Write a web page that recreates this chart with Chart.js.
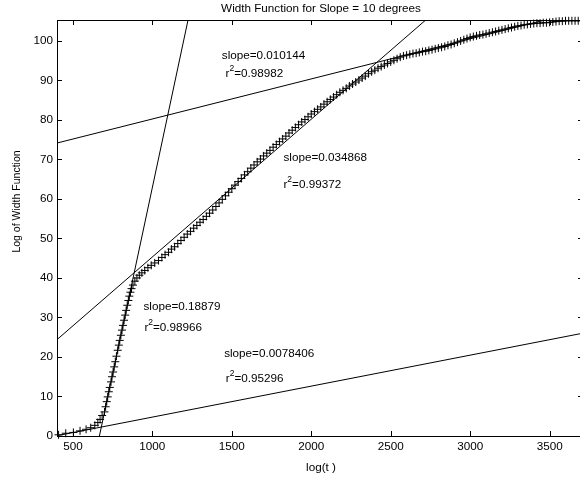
<!DOCTYPE html>
<html>
<head>
<meta charset="utf-8">
<script src="https://cdn.jsdelivr.net/npm/chart.js@4.4.1/dist/chart.umd.min.js"></script>
<style>
html,body{margin:0;padding:0;overflow:hidden;background:#fff;width:580px;height:481px}
#wrap{width:588px;height:481px}
</style>
</head>
<body>
<div id="wrap"><canvas id="c" width="588" height="481"></canvas></div>
<script>
// ---- texts ----
const chartTitle = 'Width Function for Slope = 10 degrees';
const xAxisTitle = 'log(t )';
const yAxisTitle = 'Log of Width Function';

// ---- axes ----
const xTicks = [500, 1000, 1500, 2000, 2500, 3000, 3500];
const yTicks = [0, 10, 20, 30, 40, 50, 60, 70, 80, 90, 100];
const xRange = [400, 3710];
const yRange = [0, 105.3];

// ---- width function samples ----
const widthX = [
  410, 455, 503, 545, 583, 612, 638, 657, 671, 684,
  699, 706, 713, 719, 726, 732, 740, 746, 753, 760,
  767, 774, 782, 789, 795, 802, 809, 815, 822, 829,
  835, 842, 849, 855, 862, 869, 878, 890, 903, 918,
  934, 952, 972, 993, 1015, 1039, 1060, 1080, 1102, 1120,
  1140, 1160, 1180, 1200, 1220, 1240, 1260, 1280, 1300, 1320,
  1340, 1360, 1380, 1400, 1420, 1440, 1460, 1480, 1500, 1520,
  1540, 1560, 1580, 1600, 1620, 1640, 1660, 1680, 1700, 1720,
  1740, 1760, 1780, 1800, 1820, 1840, 1860, 1880, 1900, 1920,
  1940, 1960, 1980, 2000, 2020, 2040, 2060, 2080, 2100, 2120,
  2140, 2160, 2180, 2200, 2220, 2240, 2260, 2280, 2300, 2320,
  2340, 2360, 2380, 2400, 2420, 2440, 2460, 2480, 2500, 2520,
  2540, 2560, 2580, 2600, 2620, 2640, 2660, 2680, 2700, 2720,
  2740, 2760, 2780, 2800, 2820, 2840, 2860, 2880, 2900, 2920,
  2940, 2960, 2980, 3000, 3020, 3040, 3060, 3080, 3100, 3120,
  3140, 3160, 3180, 3200, 3220, 3240, 3260, 3280, 3300, 3320,
  3340, 3360, 3380, 3400, 3420, 3440, 3460, 3480, 3500, 3520,
  3540, 3560, 3580, 3600, 3620, 3640, 3660, 3680, 3700
];
const widthY = [
  0.3, 0.7, 0.9, 1.3, 1.7, 2.1, 2.7, 3.4, 4.2, 5.2,
  6.1, 7.4, 8.7, 9.9, 11.2, 12.3, 13.7, 15.0, 16.2, 17.5,
  18.8, 20.2, 21.7, 23.0, 24.2, 25.5, 26.8, 28.0, 29.3, 30.6,
  31.8, 33.1, 34.3, 35.4, 36.4, 37.3, 38.2, 39.2, 40.0, 40.7,
  41.3, 41.9, 42.6, 43.2, 43.8, 44.4, 45.2, 45.9, 46.5, 47.3,
  47.9, 48.7, 49.5, 50.3, 51.1, 51.8, 52.6, 53.3, 54.1, 54.8,
  55.6, 56.4, 57.2, 58.1, 59.0, 59.9, 60.8, 61.7, 62.6, 63.5,
  64.4, 65.2, 66.1, 66.9, 67.8, 68.6, 69.4, 70.1, 70.9, 71.6,
  72.3, 73.1, 73.8, 74.5, 75.2, 75.9, 76.7, 77.4, 78.1, 78.8,
  79.5, 80.1, 80.8, 81.5, 82.1, 82.7, 83.3, 84.0, 84.6, 85.2,
  85.8, 86.4, 87.0, 87.5, 88.0, 88.6, 89.1, 89.6, 90.1, 90.6,
  91.1, 91.7, 92.2, 92.6, 93.1, 93.5, 93.9, 94.3, 94.7, 95.1,
  95.5, 95.9, 96.2, 96.4, 96.6, 96.8, 96.9, 97.1, 97.3, 97.4,
  97.6, 97.8, 98.0, 98.2, 98.4, 98.6, 98.9, 99.1, 99.4, 99.7,
  100.0, 100.3, 100.6, 100.9, 101.1, 101.3, 101.5, 101.6, 101.8, 102.0,
  102.2, 102.4, 102.6, 102.8, 103.0, 103.2, 103.4, 103.6, 103.8, 103.9,
  104.1, 104.2, 104.3, 104.4, 104.5, 104.5, 104.6, 104.6, 104.7, 104.8,
  104.9, 105.0, 105.0, 105.1, 105.1, 105.1, 105.1, 105.1, 105.1
];

// ---- fitted lines ----
const fitSlopes     = [0.010144, 0.034868, 0.18879, 0.0078406];
const fitIntercepts = [70.1, 10.45, -125.9, -3.06];
const fitR2         = [0.98982, 0.99372, 0.98966, 0.95296];
// label anchors in data units
const slopeLabelX = [1437, 1825, 944, 1452];
const slopeLabelY = [96.2, 70.3, 32.7, 20.8];
const r2LabelX    = [1461, 1825, 950, 1462];
const r2LabelY    = [91.6, 63.5, 27.4, 14.4];

const FF = '"Liberation Sans", Arial, Helvetica, sans-serif';

function fitSegment(m, b) {
  const x0 = Math.max(xRange[0], (yRange[0] - b) / m);
  const x1 = Math.min(xRange[1], (yRange[1] - b) / m);
  return [{x: x0, y: m * x0 + b}, {x: x1, y: m * x1 + b}];
}

const datasets = [{
  label: 'width function',
  data: widthX.map((x, i) => ({x: x, y: widthY[i]})),
  showLine: false,
  pointStyle: 'cross',
  pointRadius: 4,
  pointBorderWidth: 1,
  borderColor: '#000',
  backgroundColor: '#000',
  clip: false
}];
fitSlopes.forEach((m, i) => {
  datasets.push({
    label: 'fit ' + i,
    data: fitSegment(m, fitIntercepts[i]),
    showLine: true,
    borderColor: '#000',
    borderWidth: 1,
    pointRadius: 0,
    fill: false,
    tension: 0
  });
});

const decorPlugin = {
  id: 'decor',
  afterDatasetsDraw(chart) {
    const ctx = chart.ctx;
    const a = chart.chartArea;
    const xs = chart.scales.x, ys = chart.scales.y;
    ctx.save();
    ctx.strokeStyle = '#000';
    ctx.lineWidth = 1;
    ctx.strokeRect(a.left + 0.5, a.top + 0.5, a.right - a.left, a.bottom - a.top);
    ctx.beginPath();
    const TL = 5;
    xTicks.forEach(v => {
      const p = Math.round(xs.getPixelForValue(v)) + 0.5;
      ctx.moveTo(p, a.bottom); ctx.lineTo(p, a.bottom - TL);
      ctx.moveTo(p, a.top); ctx.lineTo(p, a.top + TL);
    });
    yTicks.forEach(v => {
      const p = Math.round(ys.getPixelForValue(v)) + 0.5;
      ctx.moveTo(a.left, p); ctx.lineTo(a.left + TL, p);
      ctx.moveTo(a.right, p); ctx.lineTo(a.right - TL, p);
    });
    ctx.stroke();

    ctx.fillStyle = '#000';
    const cx = (a.left + a.right) / 2 + 1;
    ctx.font = '11.7px ' + FF;
    ctx.textAlign = 'center';
    ctx.textBaseline = 'alphabetic';
    ctx.fillText(chartTitle, cx, 12);
    ctx.fillText(xAxisTitle, cx, 471);

    ctx.save();
    ctx.font = '10.5px ' + FF;
    ctx.translate(20, 201.5);
    ctx.rotate(-Math.PI / 2);
    ctx.fillText(yAxisTitle, 0, 0);
    ctx.restore();

    ctx.textAlign = 'left';
    ctx.textBaseline = 'middle';
    fitSlopes.forEach((m, i) => {
      ctx.font = '11.7px ' + FF;
      ctx.fillText('slope=' + m, xs.getPixelForValue(slopeLabelX[i]), ys.getPixelForValue(slopeLabelY[i]));
      let x = xs.getPixelForValue(r2LabelX[i]);
      const y = ys.getPixelForValue(r2LabelY[i]);
      ctx.fillText('r', x, y);
      x += ctx.measureText('r').width;
      ctx.font = '8.5px ' + FF;
      ctx.fillText('2', x, y - 5);
      x += ctx.measureText('2').width;
      ctx.font = '11.7px ' + FF;
      ctx.fillText('=' + fitR2[i], x, y);
    });
    ctx.restore();
  }
};

new Chart(document.getElementById('c'), {
  type: 'scatter',
  data: {datasets: datasets},
  options: {
    responsive: false,
    animation: false,
    devicePixelRatio: 1,
    layout: {padding: {left: 0, top: 20, right: 5, bottom: 0}},
    plugins: {legend: {display: false}, tooltip: {enabled: false}, title: {display: false}},
    scales: {
      x: {
        type: 'linear', position: 'bottom',
        min: xRange[0], max: xRange[1],
        grid: {display: false, drawTicks: false},
        border: {display: false},
        ticks: {color: '#000', font: {family: FF, size: 11.7}, padding: 4, maxRotation: 0, autoSkip: false,
                callback: v => String(v)},
        afterBuildTicks: s => { s.ticks = xTicks.map(v => ({value: v})); },
        afterFit: s => { s.height = 45; }
      },
      y: {
        type: 'linear', position: 'left',
        min: yRange[0], max: yRange[1],
        grid: {display: false, drawTicks: false},
        border: {display: false},
        ticks: {color: '#000', font: {family: FF, size: 11.7}, padding: 4, autoSkip: false,
                callback: v => String(v)},
        afterBuildTicks: s => { s.ticks = yTicks.map(v => ({value: v})); },
        afterFit: s => { s.height = undefined, s.width = 57; }
      }
    }
  },
  plugins: [decorPlugin]
});
</script>
</body>
</html>
